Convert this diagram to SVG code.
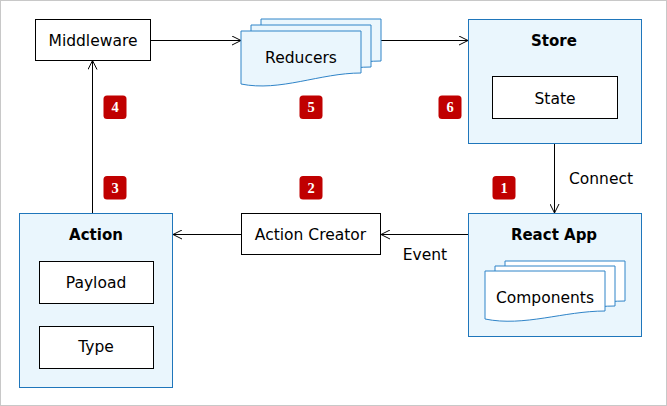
<svg xmlns="http://www.w3.org/2000/svg" width="667" height="406" viewBox="0 0 667 406">
<defs>
<style>
.frame{fill:#fff;stroke:#c8c8c8;stroke-width:1}
.cont{fill:#eaf6fd;stroke:#1f76bb;stroke-width:1}
.box{fill:#fff;stroke:#000;stroke-width:1}
.page{fill:#eaf6fd;stroke:#2f84c8;stroke-width:1}
.wpage{fill:#fff;stroke:#2f84c8;stroke-width:1}
.t{font-family:"DejaVu Sans","Verdana",sans-serif;font-size:15.5px;fill:#000;text-anchor:middle}
.b{font-weight:bold;font-size:15px}
.badge{fill:#c00000}
.bn{font-family:"Liberation Serif","Times New Roman",serif;font-weight:bold;font-size:14.5px;fill:#fff;text-anchor:middle}
.edge{fill:none;stroke:#000;stroke-width:1}
</style>
<marker id="arr" viewBox="0 0 10 10" refX="10" refY="5" markerWidth="10" markerHeight="10" markerUnits="userSpaceOnUse" orient="auto">
<path d="M1,0.5 L10,5 L1,9.5" fill="none" stroke="#000" stroke-width="1"/>
</marker>
<path id="rpage" d="M0,0 H120 V42 C79,42 39,61 0,53 Z"/>
<path id="cpage" d="M0,0 H120 V40 C79,40 39,56 0,48 Z"/>
</defs>
<rect class="frame" x="0.5" y="0.5" width="666" height="405"/>

<g id="connectors">
<line class="edge" x1="151" y1="40.5" x2="241" y2="40.5" marker-end="url(#arr)"/>
<line class="edge" x1="381" y1="40.5" x2="468" y2="40.5" marker-end="url(#arr)"/>
<line class="edge" x1="554.5" y1="143.5" x2="554.5" y2="213" marker-end="url(#arr)"/>
<line class="edge" x1="468" y1="234.5" x2="381" y2="234.5" marker-end="url(#arr)"/>
<line class="edge" x1="241" y1="234.5" x2="173" y2="234.5" marker-end="url(#arr)"/>
<line class="edge" x1="92.5" y1="213" x2="92.5" y2="60.5" marker-end="url(#arr)"/>
<text class="t" x="601" y="183.5">Connect</text>
<text class="t" x="425" y="259.5">Event</text>
</g>

<g id="middleware">
<rect class="box" x="35.5" y="19.5" width="115" height="41"/>
<text class="t" x="93" y="45.5">Middleware</text>
</g>

<g id="reducers">
<use href="#rpage" class="page" x="261" y="19"/>
<use href="#rpage" class="page" x="251" y="25"/>
<use href="#rpage" class="page" x="241" y="31"/>
<text class="t" x="301" y="63">Reducers</text>
</g>

<g id="store">
<rect class="cont" x="468.5" y="19.5" width="173" height="124"/>
<text class="t b" x="554" y="45.5">Store</text>
<rect class="box" x="492.5" y="76.5" width="125" height="42"/>
<text class="t" x="555" y="104">State</text>
</g>

<g id="react-app">
<rect class="cont" x="468.5" y="213.5" width="173" height="123"/>
<text class="t b" x="554" y="239.5">React App</text>
<use href="#cpage" class="wpage" x="505" y="261"/>
<use href="#cpage" class="wpage" x="495" y="266"/>
<use href="#cpage" class="wpage" x="485" y="271"/>
<text class="t" x="545" y="302.5">Components</text>
</g>

<g id="action-creator">
<rect class="box" x="241.5" y="213.5" width="139" height="41"/>
<text class="t" x="310.5" y="240">Action Creator</text>
</g>

<g id="action">
<rect class="cont" x="19.5" y="213.5" width="153" height="174"/>
<text class="t b" x="96" y="239.5">Action</text>
<rect class="box" x="39.5" y="261.5" width="114" height="42"/>
<text class="t" x="96" y="287.5">Payload</text>
<rect class="box" x="39.5" y="326.5" width="114" height="42"/>
<text class="t" x="96" y="352">Type</text>
</g>

<g id="badge-1"><rect class="badge" x="492.5" y="176" width="23" height="23.5" rx="3.5"/><text class="bn" x="504" y="192.5">1</text></g>
<g id="badge-2"><rect class="badge" x="299.5" y="176" width="23" height="23.5" rx="3.5"/><text class="bn" x="311" y="192.5">2</text></g>
<g id="badge-3"><rect class="badge" x="103.5" y="176" width="23" height="23.5" rx="3.5"/><text class="bn" x="115" y="192.5">3</text></g>
<g id="badge-4"><rect class="badge" x="103.5" y="95.5" width="23" height="23.5" rx="3.5"/><text class="bn" x="115" y="112">4</text></g>
<g id="badge-5"><rect class="badge" x="299.5" y="95.5" width="23" height="23.5" rx="3.5"/><text class="bn" x="311" y="112">5</text></g>
<g id="badge-6"><rect class="badge" x="438.5" y="95.5" width="23" height="23.5" rx="3.5"/><text class="bn" x="450" y="112">6</text></g>
</svg>
